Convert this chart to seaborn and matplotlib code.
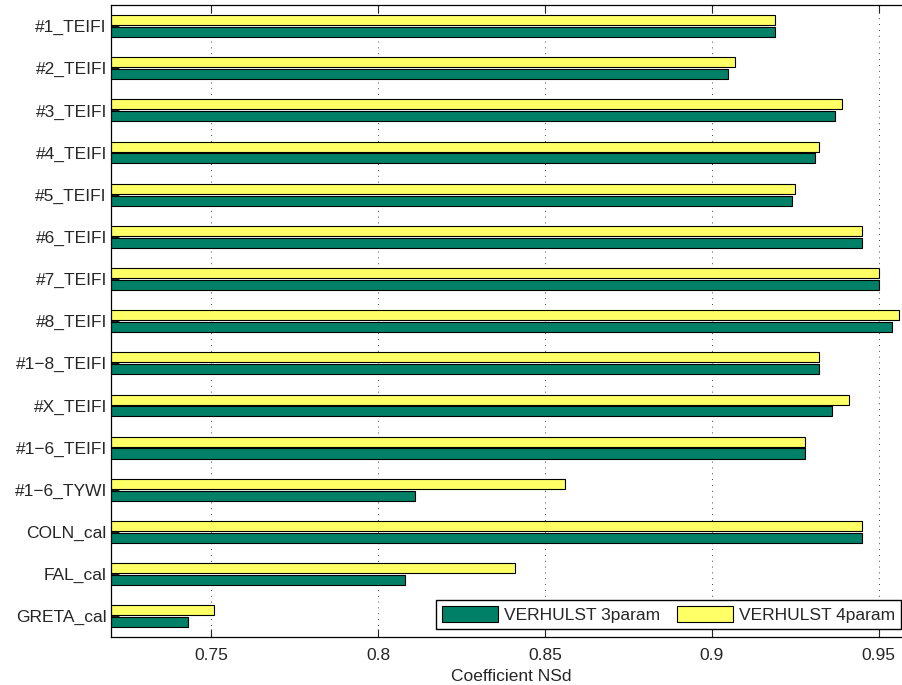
import matplotlib
matplotlib.use("Agg")
import matplotlib.pyplot as plt
from matplotlib.patches import Patch
import seaborn as sns
import pandas as pd

sns.set_style("white")
plt.rcParams["font.family"] = ["Liberation Sans", "DejaVu Sans"]

# Nash-Sutcliffe coefficients per calibration set
stations = ["#1_TEIFI", "#2_TEIFI", "#3_TEIFI", "#4_TEIFI", "#5_TEIFI",
            "#6_TEIFI", "#7_TEIFI", "#8_TEIFI", "#1\u22128_TEIFI", "#X_TEIFI",
            "#1\u22126_TEIFI", "#1\u22126_TYWI", "COLN_cal", "FAL_cal", "GRETA_cal"]
nsd_3param = [0.919, 0.905, 0.937, 0.931, 0.924, 0.945, 0.950, 0.954,
              0.932, 0.936, 0.928, 0.811, 0.945, 0.808, 0.743]
nsd_4param = [0.919, 0.907, 0.939, 0.932, 0.925, 0.945, 0.950, 0.956,
              0.932, 0.941, 0.928, 0.856, 0.945, 0.841, 0.751]
models = ["VERHULST 3param", "VERHULST 4param"]
xticks = [0.75, 0.8, 0.85, 0.9, 0.95]

colors = {models[0]: "#008066", models[1]: "#FFFF66"}
FS = 12.5

df = pd.DataFrame({
    "station": stations * 2,
    "nsd": nsd_3param + nsd_4param,
    "model": [models[0]] * len(stations) + [models[1]] * len(stations),
})

fig = plt.figure(figsize=(9.03, 6.85), dpi=100)
ax = fig.add_axes([111 / 903, 1 - 637.3 / 685, 801 / 903, 632.3 / 685])

# 4param drawn first so it sits above 3param in each group
sns.barplot(data=df, y="station", x="nsd", hue="model",
            hue_order=[models[1], models[0]], order=stations,
            palette=colors, saturation=1, orient="h", width=0.56, gap=0.15,
            edgecolor="black", linewidth=0.8, errorbar=None,
            legend=False, ax=ax)

ax.set_xlim(0.72, 0.96)
ax.set_ylim(len(stations) - 0.5, -0.5)
ax.set_xticks(xticks)
ax.set_xticklabels([f"{t:g}" for t in xticks])
ax.set_xlabel("Coefficient NSd", fontsize=FS, labelpad=4)
ax.set_ylabel("")

ax.xaxis.grid(True, color="black", linestyle=(0, (1, 6)), linewidth=0.6)
ax.yaxis.grid(False)
ax.set_axisbelow(True)

ax.tick_params(axis="both", direction="in", labelsize=FS, color="#222222",
               length=5.5, width=0.8)
ax.tick_params(axis="x", top=True, bottom=True, pad=8)
ax.tick_params(axis="y", left=True, right=False, pad=3)

for side in ["left", "right", "top", "bottom"]:
    ax.spines[side].set_color("black")
    ax.spines[side].set_linewidth(0.9)

handles = [Patch(facecolor=colors[m], edgecolor="black", linewidth=0.8)
           for m in models]
leg = ax.legend(handles, models, loc="lower left",
                bbox_to_anchor=(436 / 903, 1 - 629 / 685),
                bbox_transform=fig.transFigure, ncol=2, fontsize=FS,
                frameon=True, fancybox=False, framealpha=1,
                edgecolor="black", handlelength=3.2, handleheight=1.0,
                handletextpad=0.35, columnspacing=1.0, borderpad=0.35,
                borderaxespad=0)
leg.get_frame().set_linewidth(1.0)

fig.savefig("out.png", dpi=100)
